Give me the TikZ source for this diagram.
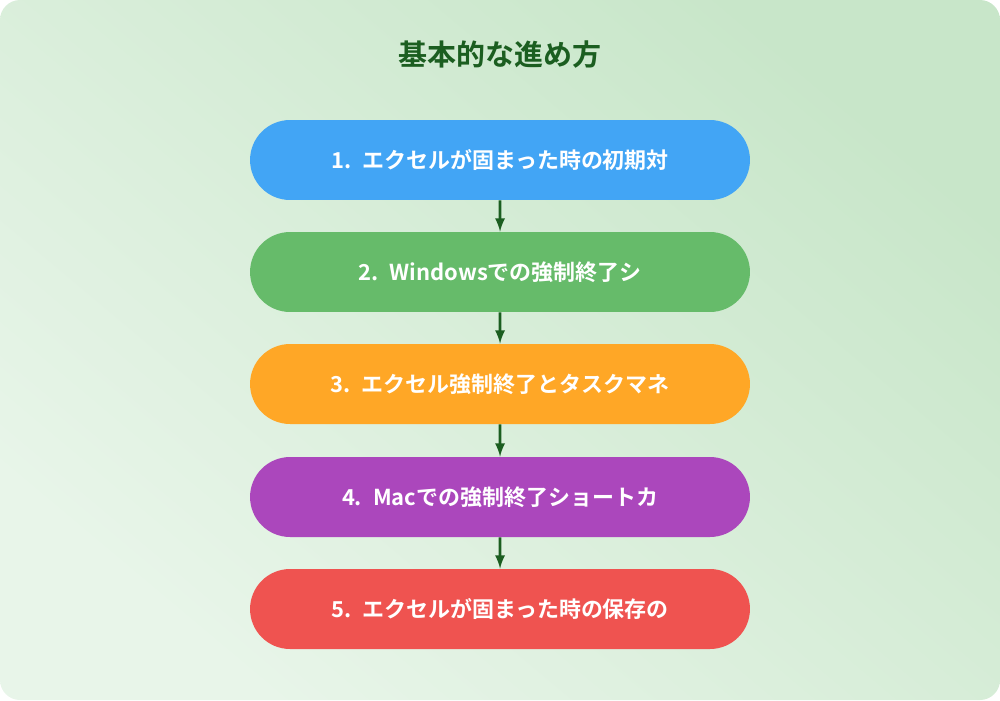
\documentclass[tikz,border=0pt]{standalone}
\usepackage{fontspec}
\setmainfont{Noto Sans CJK JP}[BoldFont={Noto Sans CJK JP Bold}]
\usetikzlibrary{positioning,shapes.misc}
\definecolor{bgA}{HTML}{E8F5E9}
\definecolor{bgB}{HTML}{C8E6C9}
\definecolor{titlegreen}{HTML}{1B5E20}
\definecolor{stepA}{HTML}{42A5F5}
\definecolor{stepB}{HTML}{66BB6A}
\definecolor{stepC}{HTML}{FFA726}
\definecolor{stepD}{HTML}{AB47BC}
\definecolor{stepE}{HTML}{EF5350}
\tikzset{
  step/.style={rounded rectangle, minimum width=10.0cm, minimum height=1.6cm,
    text width=8.4cm, align=center, inner xsep=0pt,
    fill=#1, text=white, font=\bfseries\fontsize{12.5}{14}\selectfont},
  link/.style={draw=titlegreen, line width=1.6pt, -latex}
}
\begin{document}
\begin{tikzpicture}[x=0.02cm,y=-0.02cm]
  \useasboundingbox (0,0) rectangle (1000,700);
  \shade[rounded corners=0.4cm, left color=bgA, right color=bgB, shading angle=140]
    (0,0) rectangle (1000,700);
  \node[text=titlegreen, font=\bfseries\fontsize{16.5}{19}\selectfont] (title) at (500,55) {基本的な進め方};
  % steps
  \node[step=stepA] (s1) at (500,160) {1. エクセルが固まった時の初期対};
  \node[step=stepB] (s2) at (500,272) {2. Windowsでの強制終了シ};
  \node[step=stepC] (s3) at (500,384) {3. エクセル強制終了とタスクマネ};
  \node[step=stepD] (s4) at (500,497) {4. Macでの強制終了ショートカ};
  \node[step=stepE] (s5) at (500,609) {5. エクセルが固まった時の保存の};
  \foreach \a/\b in {s1/s2,s2/s3,s3/s4,s4/s5}
    \draw[link] (\a) -- (\b);
\end{tikzpicture}
\end{document}
